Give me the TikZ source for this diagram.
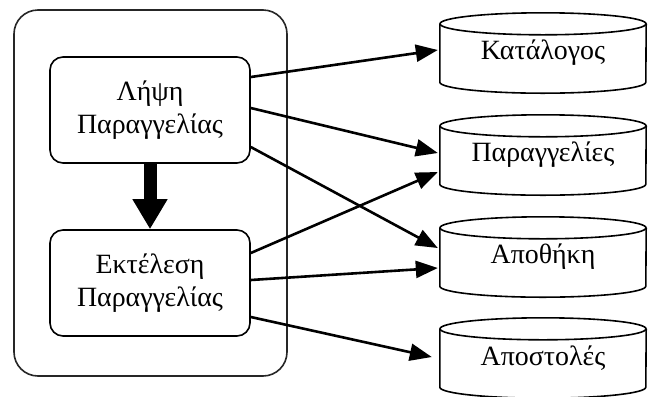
\documentclass[tikz,border=0pt]{standalone}
\usepackage{fontspec}
\setmainfont{Liberation Serif}
\usetikzlibrary{arrows.meta,calc}
\begin{document}
\begin{tikzpicture}[x=1bp,y=1bp,
  every node/.style={font=\fontsize{28}{33}\selectfont},
  frame/.style={draw=black!85, line width=1.6bp, rounded corners=24bp},
  proc/.style={draw, line width=1.6bp, rounded corners=13bp, minimum width=200bp,
    minimum height=106bp, align=center, inner sep=0pt},
  store/.style={minimum width=206bp, minimum height=80bp, inner sep=0pt},
  cyl/.style={line width=1.6bp},
  flow/.style={line width=2.6bp, -{Triangle[length=22bp,width=17bp]}},
  seq/.style={line width=13bp, -{Triangle[length=30bp,width=33bp]}}]
\fill[white] (0,0) rectangle (648,-396);
\useasboundingbox (0,0) rectangle (648,-396);

% system boundary with the two processes
\node[frame, minimum width=273bp, minimum height=366bp] (sys) at (150.5,-193) {};
\node[proc] (recv) at (150,-110) {Λήψη\\Παραγγελίας};
\node[proc] (exec) at (150,-283) {Εκτέλεση\\Παραγγελίας};
\draw[seq] (recv.south) -- (exec.north);

% data stores
\node[store] (cat)  at (543,-53)  {\raisebox{-6bp}{Κατάλογος}};
\node[store] (ord)  at (543,-155) {\raisebox{-6bp}{Παραγγελίες}};
\node[store] (wh)   at (543,-257) {\raisebox{-6bp}{Αποθήκη}};
\node[store] (ship) at (543,-358) {\raisebox{-6bp}{Αποστολές}};
\foreach \n in {cat,ord,wh,ship}{
  \draw[cyl] ($(\n.north)+(0,-11)$) ellipse [x radius=103, y radius=11];
  \draw[cyl] ($(\n.north west)+(0,-11)$) -- ($(\n.south west)+(0,11)$)
    arc[start angle=180, end angle=360, x radius=103, y radius=11]
    -- ($(\n.north east)+(0,-11)$);
}

% data flows
\draw[flow] ($(recv.east)+(0,33)$)  -- ($(cat.west)+(-2,3)$);
\draw[flow] ($(recv.east)+(0,2)$)   -- ($(ord.west)+(-2,2)$);
\draw[flow] ($(recv.east)+(0,-37)$) -- ($(wh.west)+(-2,9)$);
\draw[flow] ($(exec.east)+(0,30)$)  -- ($(ord.west)+(-2,-17)$);
\draw[flow] ($(exec.east)+(0,3)$)   -- ($(wh.west)+(-2,-11)$);
\draw[flow] ($(exec.east)+(0,-34)$) -- ($(ship.west)+(-8,1)$);
\end{tikzpicture}
\end{document}
